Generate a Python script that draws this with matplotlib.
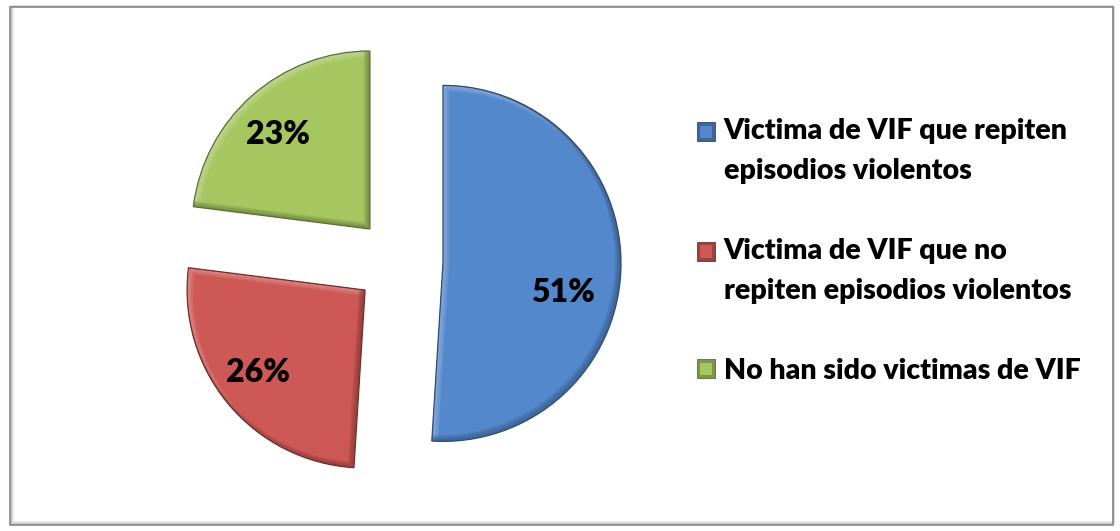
import matplotlib
matplotlib.use("Agg")
import matplotlib.pyplot as plt
from matplotlib.patches import Wedge, Rectangle
from matplotlib.legend_handler import HandlerPatch
from matplotlib.transforms import Affine2D
import matplotlib.colors as mcolors

# ---- data ----
categories = ["Victima de VIF que repiten\nepisodios violentos",
              "Victima de VIF que no\nrepiten episodios violentos",
              "No han sido victimas de VIF"]
values = [51, 26, 23]
pct_labels = ["51%", "26%", "23%"]
colors = ["#5488CC", "#CD5855", "#A6C660"]

W, H = 1120, 531
fig = plt.figure(figsize=(W / 100, H / 100), dpi=100)
fig.patch.set_facecolor("white")
ax = fig.add_axes([0, 0, 1, 1])

wedges, _ = ax.pie(values, colors=colors, startangle=90, counterclock=False,
                   center=(399, H - 262), radius=178, explode=[44, 44, 44],
                   wedgeprops=dict(linewidth=0))
ax.set_xlim(0, W)
ax.set_ylim(0, H)
ax.set_aspect("equal")
ax.axis("off")


def shade(c, f):
    r, g, b = mcolors.to_rgb(c)
    if f > 0:
        return (r + (1 - r) * f, g + (1 - g) * f, b + (1 - b) * f)
    f = -f
    return (r * (1 - f), g * (1 - f), b * (1 - f))


px = 72 / 100  # points per pixel
for w, c in zip(wedges, colors):
    # bevel: light on upper-left edges, dark on lower-right edges (soft steps)
    for col, sgn in [(shade(c, 0.30), 1), (shade(c, -0.30), -1)]:
        for k, a in [(6, 0.35), (4, 0.45), (2, 0.55)]:
            band = Wedge(w.center, w.r, w.theta1, w.theta2, fill=False,
                         edgecolor=col, linewidth=k * px, alpha=a,
                         transform=ax.transData + Affine2D().translate(sgn * k / 2, -sgn * k / 2))
            ax.add_patch(band)
            band.set_clip_path(w)
    edge = Wedge(w.center, w.r, w.theta1, w.theta2, fill=False,
                 edgecolor=shade(c, -0.45), linewidth=0.9)
    ax.add_patch(edge)

# percentage labels
label_pos = [(563, H - 292), (258, H - 372), (278, H - 135)]
for (x, y), t in zip(label_pos, pct_labels):
    ax.text(x, y, t, ha="center", va="center", fontsize=23,
            fontweight="heavy", family="Lato", color="black")

# legend
FS = 20.5
pitch_px = 40
line_sp = 1.68


class SqHandler(HandlerPatch):
    def __init__(self, nlines):
        super().__init__()
        self.nlines = nlines

    def create_artists(self, legend, orig_handle, xdescent, ydescent,
                       width, height, fontsize, trans):
        off = (self.nlines - 1) * pitch_px * px / 2
        fc = mcolors.to_hex(orig_handle.get_facecolor())
        x0, y0 = -xdescent, -ydescent + off
        arts = [Rectangle((x0, y0), width, height, facecolor=shade(fc, -0.25),
                          edgecolor=shade(fc, -0.45), linewidth=0.6, transform=trans)]
        ins = width * 0.18
        arts.append(Rectangle((x0 + ins, y0 + ins), width - 2 * ins, height - 2 * ins,
                              facecolor=fc, edgecolor="none", transform=trans))
        return arts


handler_map = {w: SqHandler(lbl.count("\n") + 1) for w, lbl in zip(wedges, categories)}
leg = ax.legend(wedges, categories, loc="upper left",
                bbox_to_anchor=(697, H - 118), bbox_transform=ax.transData,
                frameon=False, prop=dict(family="Lato", weight="heavy", size=FS),
                handlelength=0.63, handleheight=0.63, handletextpad=0.31,
                labelspacing=1.88, borderpad=0, borderaxespad=0,
                handler_map=handler_map)
for t in leg.get_texts():
    t.set_linespacing(line_sp)

# outer frame with soft shadow
for i, a in enumerate([0.5, 0.3, 0.18, 0.1]):
    fig.patches.append(Rectangle((10 + i, 7 + i), 1103 - i, 518 - i, fill=False,
                                 edgecolor=(0.45, 0.45, 0.45, a), linewidth=1.0,
                                 transform=None))
fig.patches.append(Rectangle((10, H - 525), 1103, 518, fill=False,
                             edgecolor="#8c8c8c", linewidth=1.2,
                             transform=None))

fig.savefig("out.png", dpi=100, facecolor="white")
